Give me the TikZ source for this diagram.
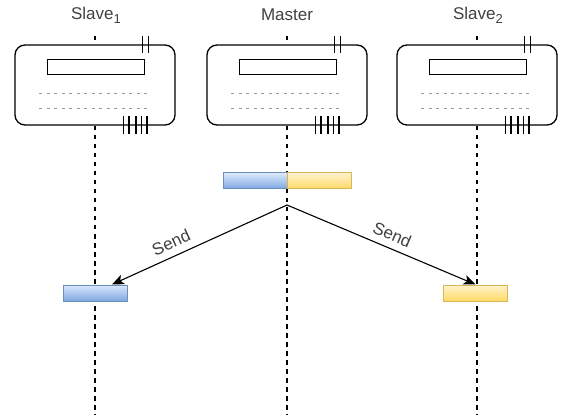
\documentclass[tikz,border=0pt]{standalone}
\usepackage{fontspec}
\setmainfont{Liberation Sans}
\usetikzlibrary{arrows.meta,calc}
\definecolor{txtgray}{RGB}{64,64,64}
\definecolor{bluetop}{HTML}{DAE8FC}
\definecolor{bluebot}{HTML}{7EA6E0}
\definecolor{blueline}{HTML}{6C8EBF}
\definecolor{yeltop}{HTML}{FFF2CC}
\definecolor{yelbot}{HTML}{FFD966}
\definecolor{yelline}{HTML}{D6B656}
\newcommand{\lowsub}[1]{\raisebox{-0.45ex}{\fontsize{13}{13}\selectfont #1}}
\begin{document}
\begin{tikzpicture}[x=1pt,y=-1pt,
  lbl/.style={text=txtgray,font=\fontsize{17}{20}\selectfont,inner sep=2pt},
  life/.style={draw=black,line width=1.1pt,dash pattern=on 4.5pt off 4.5pt},
  devbox/.style={draw=black,fill=white,line width=1.3pt,rounded corners=10pt,minimum width=160pt,minimum height=80pt,inner sep=0pt},
  innerbar/.style={draw=black,line width=1.3pt},
  dotline/.style={draw=gray!80,line width=0.8pt,dash pattern=on 3pt off 4.5pt},
  tickline/.style={draw=black,line width=1.3pt},
  bluebar/.style={draw=blueline,top color=bluetop,bottom color=bluebot,line width=1pt,minimum width=64pt,minimum height=16pt,inner sep=0pt},
  yelbar/.style={draw=yelline,top color=yeltop,bottom color=yelbot,line width=1pt,minimum width=64pt,minimum height=16pt,inner sep=0pt},
  msg/.style={draw=black,line width=1.1pt,-{Stealth[length=12pt,width=10pt,inset=3pt]}}
]
\useasboundingbox (0,0) rectangle (569,419);
% labels
\node[lbl] (ls1) at (96,15) {Slave\lowsub{1}};
\node[lbl] (lm) at (287,15) {Master};
\node[lbl] (ls2) at (478,15) {Slave\lowsub{2}};
% lifelines
\coordinate (e1) at (95,415);
\coordinate (em) at (287,415);
\coordinate (e2) at (477,415);
\coordinate (s1) at (95,36);
\coordinate (sm) at (287,36);
\coordinate (s2) at (477,36);
\draw[life] (s1) -- (e1);
\draw[life] (sm) -- (em);
\draw[life] (s2) -- (e2);
% boxes
\node[devbox] (bs1) at (95,85) {};
\node[devbox] (bm) at (287,85) {};
\node[devbox] (bs2) at (477,85) {};
\foreach \b in {bs1,bm,bs2}{
  \begin{scope}[shift={(\b.north west)}]
    \draw[innerbar] (33,15) rectangle (130,30);
    \draw[dotline] (25,49) -- (133,49);
    \draw[dotline] (25,64) -- (133,64);
    \foreach \x in {128,134} \draw[tickline] (\x,-8) -- (\x,9);
    \foreach \x in {109,114.5,121.5,127,132.5} \draw[tickline] (\x,72) -- (\x,90);
  \end{scope}
}
% activation bars
\node[bluebar] (bmb) at (255,181) {};
\node[yelbar] (bmy) at (319,181) {};
\node[bluebar] (b1) at (95,293) {};
\node[yelbar] (b2) at (475.5,293) {};
% messages
\coordinate (src) at (287,205);
\draw[msg] (src) -- ([xshift=17pt]b1.north) node[lbl,pos=0.63,sloped,above=5pt] {Send};
\draw[msg] (src) -- (b2.north) node[lbl,pos=0.53,sloped,above=5pt] {Send};
\end{tikzpicture}
\end{document}
